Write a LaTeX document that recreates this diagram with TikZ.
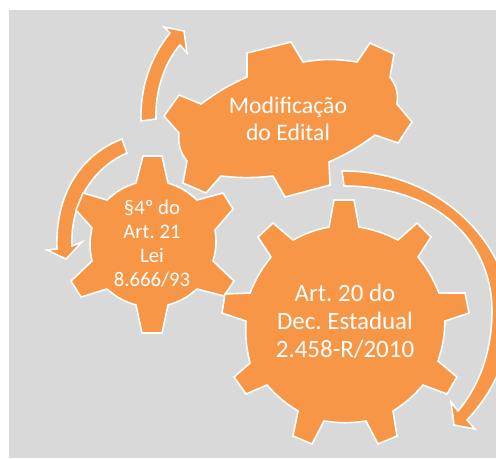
\documentclass[tikz,border=0pt]{standalone}
\usepackage{fontspec}
\setmainfont{Carlito}
\frenchspacing
\definecolor{gearfill}{HTML}{F79646}
\definecolor{backfill}{HTML}{D9D9D9}
\tikzset{
    gearshape/.style={fill=gearfill, draw=white, line width=0.9pt, line join=miter},
    gearlabel/.style={text=white, align=center, inner sep=0pt},
}

\begin{document}
\begin{tikzpicture}[x=0.02cm, y=-0.02cm]
    \useasboundingbox (0,0) rectangle (496,458);
    \fill[backfill] (9,10) rectangle (496,458);

    % arrows
    \draw[gearshape] (141,121) .. controls (140,85) and (152,55) .. (170,33) -- (164,27) -- (184,31) -- (187,53) -- (180,45)
        .. controls (165,62) and (155,90) .. (156,119) -- cycle;
    \draw[gearshape] (122,139) .. controls (80,155) and (55,195) .. (57,249) -- (47,250) -- (66,259) -- (82,242) -- (72,246)
        .. controls (70,205) and (92,168) .. (127,153) -- cycle;
    \draw[gearshape] (342,171) .. controls (440,170) and (510,245) .. (510,315) .. controls (510,355) and (495,390) .. (467,420)
        -- (475,429) -- (454,425) -- (451,402) -- (458,411)
        .. controls (480,385) and (492,350) .. (492,311) .. controls (492,240) and (435,186) .. (344,186) -- cycle;

    % top gear
    \draw[gearshape] (247,53) -- (291,42) -- (303,62) to[bend left=9] (357,62) -- (370,43) -- (394,54) -- (390,77)
        to[bend left=22] (397,104) -- (412,122) -- (398,143) -- (375,135) to[bend left=6] (329,162)
        -- (330,185) -- (285,197) -- (273,176) to[bend left=6] (221,176) -- (206,193) -- (183,183) -- (187,161)
        to[bend left=22] (179,133) -- (164,116) -- (179,95) -- (201,104) to[bend left=6] (247,77) -- cycle;

    % left gear
    \draw[gearshape] (143,156) -- (162,156) -- (168,183) to[bend left=12] (197,200) -- (223,193) -- (233,209) -- (215,230)
        to[bend left=12] (213,261) -- (234,281) -- (224,296) -- (197,289) to[bend left=12] (168,305)
        -- (162,333) -- (142,333) -- (136,305) to[bend left=12] (107,289) -- (81,297) -- (71,281) -- (92,261)
        to[bend left=12] (92,228) -- (76,210) -- (83,193) -- (107,200) to[bend left=12] (136,183) -- cycle;

    % big gear
    \draw[gearshape] (334,200) -- (354,200) -- (359,227) to[bend left=8] (398,240) -- (417,223) -- (431,237) -- (418,257)
        to[bend left=8] (439,293) -- (465,293) -- (469,313) -- (445,321) to[bend left=8] (438,361)
        -- (457,377) -- (447,394) -- (423,385) to[bend left=8] (393,411) -- (397,436) -- (378,444) -- (366,421)
        to[bend left=8] (324,421) -- (312,444) -- (293,436) -- (298,411) to[bend left=8] (267,385)
        -- (246,394) -- (234,377) -- (250,363) to[bend left=8] (246,321) -- (222,313) -- (225,294) -- (250,293)
        to[bend left=8] (271,257) -- (258,237) -- (273,223) -- (293,240) to[bend left=8] (329,227) -- cycle;

    \node[gearlabel, font=\fontsize{13.5}{15.3}\selectfont] (edital) at (288,119) {Modificação\\do Edital};
    \node[gearlabel, font=\fontsize{11.8}{13.6}\selectfont] (lei) at (152,244) {§4º do\\Art. 21\\Lei\\8.666/93};
    \node[gearlabel, font=\fontsize{14.2}{15.9}\selectfont] (decreto) at (345,321) {Art. 20 do\\Dec. Estadual\\2.458-R/2010};
\end{tikzpicture}
\end{document}
